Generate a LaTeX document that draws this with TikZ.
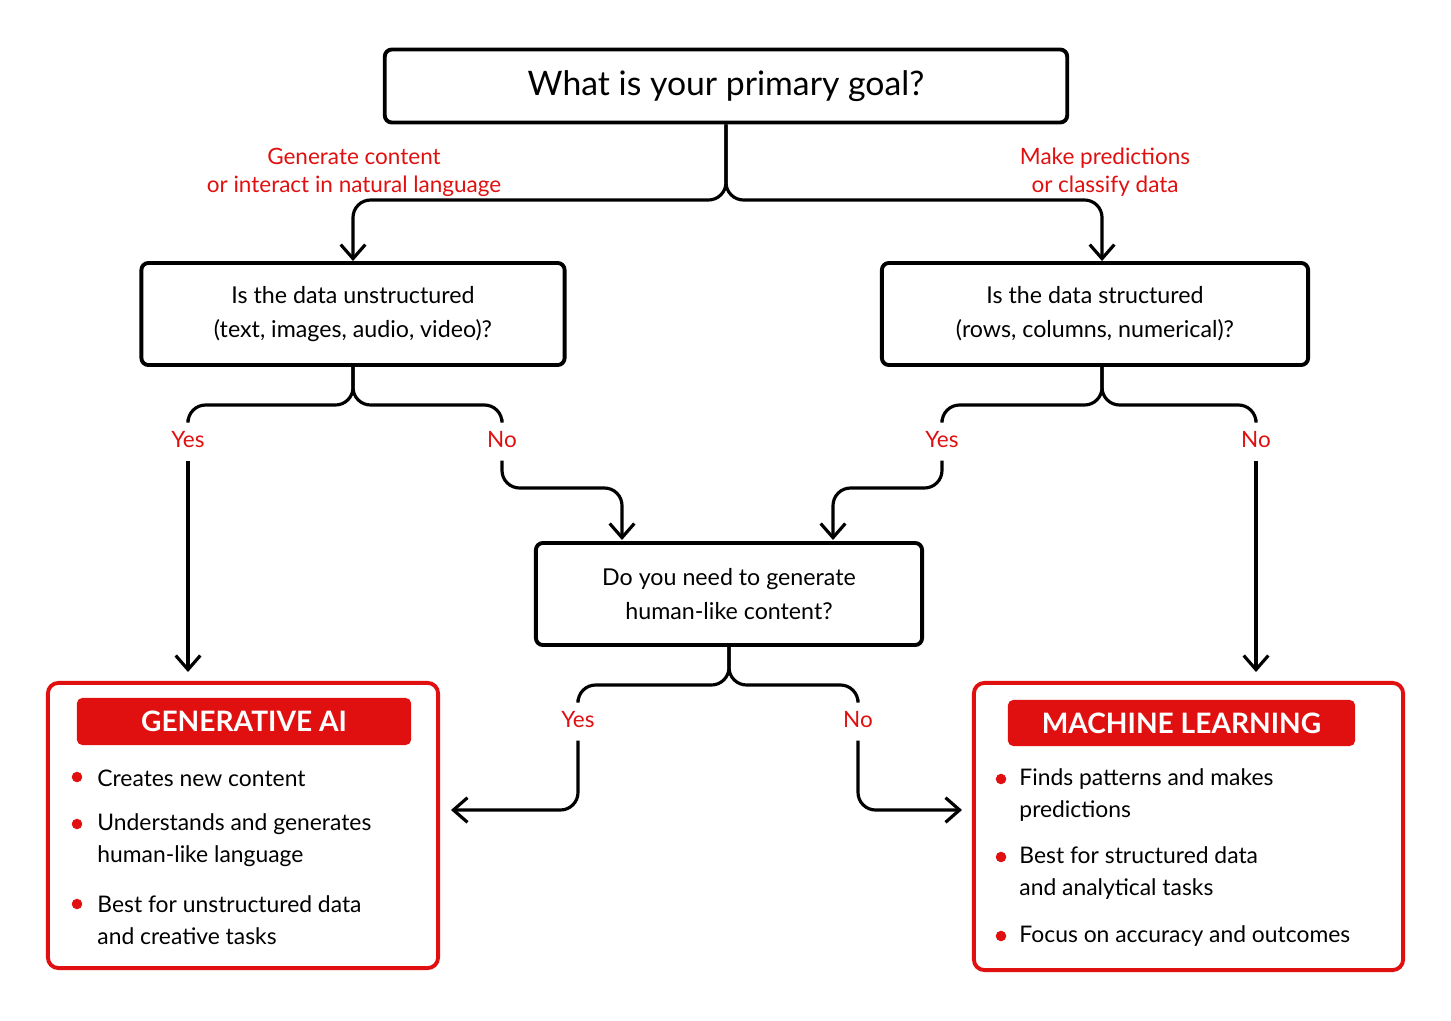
\documentclass[tikz,border=0pt]{standalone}
\usepackage{fontspec}
\setmainfont{Lato}
\usetikzlibrary{arrows.meta}
\definecolor{flowred}{HTML}{E01010}
\tikzset{
  qbox/.style={draw=black, line width=1.1pt, rounded corners=2pt, align=center, font=\fontsize{6.6}{9.6}\selectfont},
  res/.style={draw=flowred, line width=1.1pt, rounded corners=3pt},
  head/.style={fill=flowred, rounded corners=1.5pt, text=white, font=\fontsize{8}{9}\selectfont\bfseries},
  lab/.style={text=flowred, align=center, font=\fontsize{6.4}{8}\selectfont},
  item/.style={anchor=west, align=left, font=\fontsize{6.5}{9}\selectfont},
  dot/.style={circle, fill=flowred, inner sep=0pt, minimum size=3pt},
  link/.style={line width=0.9pt, rounded corners=5pt},
  arr/.style={link, -{Straight Barb[length=4pt,width=7pt]}}
}
\begin{document}
\begin{tikzpicture}[x=0.01cm, y=-0.01cm]
\useasboundingbox (0,0) rectangle (1451,1021);
% questions
\node[qbox, minimum width=6.82cm, minimum height=0.73cm, font=\fontsize{9.6}{11}\selectfont] (goal) at (726,86) {What is your primary goal?};
\node[qbox, minimum width=4.23cm, minimum height=1.02cm] (unstr) at (353,314) {Is the data unstructured\\(text, images, audio, video)?};
\node[qbox, minimum width=4.26cm, minimum height=1.02cm] (str) at (1095,314) {Is the data structured\\(rows, columns, numerical)?};
\node[qbox, minimum width=3.86cm, minimum height=1.02cm] (human) at (729,594) {Do you need to generate\\human-like content?};
% results
\node[res, minimum width=3.90cm, minimum height=2.85cm] (gen) at (243,825.5) {};
\node[head, minimum width=3.34cm, minimum height=0.47cm] (genh) at (244,721.5) {GENERATIVE AI};
\node[res, minimum width=4.29cm, minimum height=2.87cm] (ml) at (1188.5,826.5) {};
\node[head, minimum width=3.47cm, minimum height=0.46cm] (mlh) at (1181.5,723) {MACHINE LEARNING};
% bullets
\foreach \y/\d/\t in {778/777/{Creates new content}, 840/824/{Understands and generates\\human-like language}, 920/904/{Best for unstructured data\\and creative tasks}}{
  \node[dot] at (77,\d) {};
  \node[item] at (85,\y) {\t};
}
\foreach \y/\d/\t in {795/779/{Finds patterns and makes\\predictions}, 873/857/{Best for structured data\\and analytical tasks}, 936/936/{Focus on accuracy and outcomes}}{
  \node[dot] at (1001,\d) {};
  \node[item] at (1007,\y) {\t};
}
% labels
\node[lab] (gcont) at (354,172) {Generate content\\or interact in natural language};
\node[lab] (mpred) at (1105,172) {Make predictions\\or classify data};
\node[lab] (y1) at (188,440) {Yes};
\node[lab] (n1) at (502,440) {No};
\node[lab] (y2) at (942,440) {Yes};
\node[lab] (n2) at (1256,440) {No};
\node[lab] (y3) at (578,720) {Yes};
\node[lab] (n3) at (858,720) {No};
\coordinate (gin) at (451,810);
\coordinate (min) at (962,810);
% connectors
\draw[arr] (goal.south) |- (540,200) -| (unstr.north);
\draw[arr] (goal.south) |- (900,200) -| ([xshift=2]str.north);
\draw[link] (unstr.south) |- (270,405) -| (y1.north);
\draw[link] (unstr.south) |- (430,405) -| (n1.north);
\draw[link] ([xshift=2]str.south) |- (1020,405) -| (y2.north);
\draw[link] ([xshift=2]str.south) |- (1180,405) -| (n2.north);
\draw[arr] (y1.south) -- (188,672);
\draw[arr] (n1.south) |- (622,488) -- (622,540);
\draw[arr] (y2.south) |- (833,488) -- (833,540);
\draw[arr] (n2.south) -- (1256,672);
\draw[link] (human.south) |- (650,685) -| (y3.north);
\draw[link] (human.south) |- (800,685) -| (n3.north);
\draw[arr] (y3.south) |- (gin);
\draw[arr] (n3.south) |- (min);
\end{tikzpicture}
\end{document}
